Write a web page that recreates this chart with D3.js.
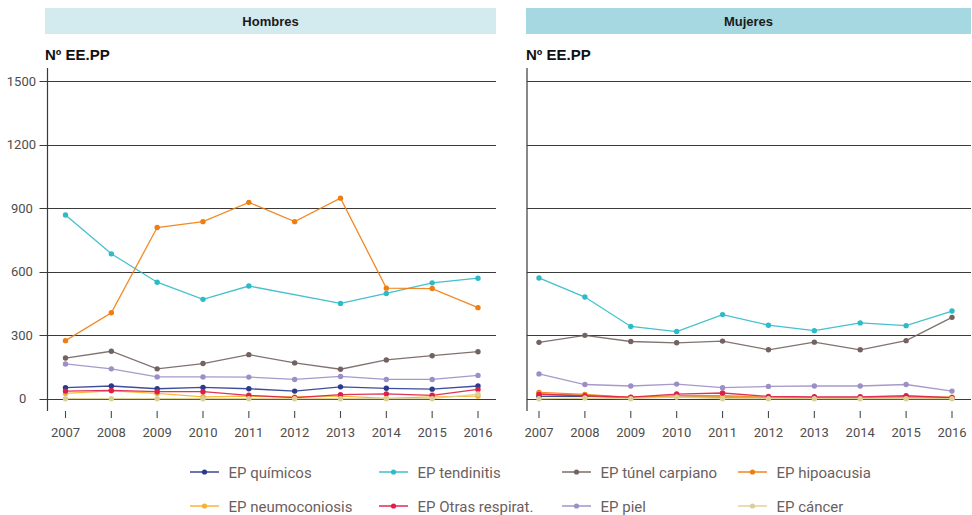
<!DOCTYPE html>
<html>
<head>
<meta charset="utf-8">
<script src="https://cdn.jsdelivr.net/npm/d3@7/dist/d3.min.js"></script>
<style>
  html, body { margin: 0; padding: 0; background: #fff; }
  svg { display: block; }
  .tick-lbl { font-family: Roboto, "Liberation Sans", sans-serif; font-size: 13px; fill: #4d4d4d; }
  .legend-lbl { font-family: Roboto, "Liberation Sans", sans-serif; font-size: 15px; fill: #6b6060; }
  .strip-lbl { font-family: "Liberation Sans", Arial, sans-serif; font-size: 13px; font-weight: bold; fill: #1a1a1a; }
  .unit-lbl { font-family: "Liberation Sans", Arial, sans-serif; font-size: 15px; font-weight: bold; fill: #111; }
</style>
</head>
<body>
<svg id="chart" width="972" height="515"></svg>
<script>
// Years on the x axis
const years = [2007, 2008, 2009, 2010, 2011, 2012, 2013, 2014, 2015, 2016];

// Y axis ticks
const yTicks = [0, 300, 600, 900, 1200, 1500];
const yTickLabels = ["0", "300", "600", "900", "1200", "1500"];

// Series names (legend order)
const seriesNames = ["EP químicos", "EP tendinitis", "EP túnel carpiano", "EP hipoacusia",
                     "EP neumoconiosis", "EP Otras respirat.", "EP piel", "EP cáncer"];
const seriesColors = ["#2a3b8f", "#2fbac8", "#73625f", "#f07d10",
                      "#f8b12c", "#dc1e48", "#9b8fc6", "#dad097"];

// Panels
const panelNames = ["Hombres", "Mujeres"];
const stripColors = ["#d3eaee", "#a5d8e0"];

// Hombres (null = no data that year)
const hQuimicos      = [52, 60, 47, 53, 47, 36, 56, 49, 45, 60];
const hTendinitis    = [867, 684, 550, 469, 532, null, 450, 497, 547, 569];
const hTunel         = [192, 224, 141, 166, 208, 169, 139, 183, 203, 222];
const hHipoacusia    = [274, 406, 808, 836, 927, 836, 947, 522, 520, 430];
const hNeumoconiosis = [25, 37, 25, 9, 12, 8, 12, 2, 9, 12];
const hOtras         = [36, 39, 33, 33, 16, 5, 19, 23, 16, 44];
const hPiel          = [164, 141, 103, 103, 102, 91, 105, 91, 91, 110];
const hCancer        = [0, 0, 0, 0, 0, 0, 0, 0, 0, 22];

// Mujeres
const mQuimicos      = [11, 12, 5, 10, 8, 3, 3, 3, 5, 3];
const mTendinitis    = [570, 480, 341, 317, 397, 347, 321, 358, 345, 414];
const mTunel         = [266, 299, 270, 264, 272, 231, 267, 231, 274, 384];
const mHipoacusia    = [30, 20, 6, 14, 14, 6, 6, 6, 8, 7];
const mNeumoconiosis = [25, 15, 5, 8, 8, 3, 3, 3, 5, 3];
const mOtras         = [21, 14, 7, 22, 27, 11, 9, 9, 14, 5];
const mPiel          = [117, 67, 60, 69, 52, 58, 60, 60, 67, 36];
const mCancer        = [0, 3, 0, 8, 0, 0, 0, 0, 0, 0];

const panelSeries = [
  [hQuimicos, hTendinitis, hTunel, hHipoacusia, hNeumoconiosis, hOtras, hPiel, hCancer],
  [mQuimicos, mTendinitis, mTunel, mHipoacusia, mNeumoconiosis, mOtras, mPiel, mCancer]
];

const svg = d3.select("#chart");

const panelLayout = [
  { axisX: 47.5, right: 496, stripX: 45, xFirst: 65.5, xLast: 478, showLabels: true },
  { axisX: 527, right: 971, stripX: 526, xFirst: 539, xLast: 952, showLabels: false }
];

const y = d3.scaleLinear().domain([0, 1500]).range([398.7, 81]);
const axisTop = 68, axisBottom = 411;

panelLayout.forEach((p, pi) => {
  const g = svg.append("g");
  const x = d3.scalePoint().domain(years).range([p.xFirst, p.xLast]);

  // strip
  g.append("rect")
    .attr("x", p.stripX).attr("y", 8)
    .attr("width", p.right - p.stripX).attr("height", 26)
    .attr("fill", stripColors[pi]);
  g.append("text").attr("class", "strip-lbl")
    .attr("x", (p.stripX + p.right) / 2).attr("y", 25.5)
    .attr("text-anchor", "middle").text(panelNames[pi]);

  // unit title
  g.append("text").attr("class", "unit-lbl")
    .attr("x", p.stripX).attr("y", 59.5).text("Nº EE.PP");

  // horizontal grid lines
  g.selectAll(".grid").data(yTicks).join("line")
    .attr("x1", p.showLabels ? p.axisX - 8 : p.axisX).attr("x2", p.right)
    .attr("y1", d => Math.round(y(d)) + 0.5).attr("y2", d => Math.round(y(d)) + 0.5)
    .attr("stroke", "#3a3a3a").attr("stroke-width", 1.2);

  // y axis line
  g.append("line")
    .attr("x1", p.axisX).attr("x2", p.axisX)
    .attr("y1", axisTop).attr("y2", axisBottom)
    .attr("stroke", "#3a3a3a").attr("stroke-width", 1.2);

  // y tick labels (first panel only)
  if (p.showLabels) {
    g.selectAll(".ylbl").data(yTicks).join("text").attr("class", "tick-lbl")
      .attr("x", (d, i) => 36 - (4 - yTickLabels[i].length) * 3.2)
      .attr("y", d => y(d) + 4.5)
      .attr("text-anchor", "end")
      .text((d, i) => yTickLabels[i]);
  }

  // x axis ticks and labels
  const xa = g.append("g");
  xa.selectAll("line").data(years).join("line")
    .attr("x1", d => x(d)).attr("x2", d => x(d))
    .attr("y1", axisBottom).attr("y2", axisBottom + 7)
    .attr("stroke", "#4a4a4a").attr("stroke-width", 1.1);
  xa.selectAll("text").data(years).join("text").attr("class", "tick-lbl")
    .attr("x", d => x(d)).attr("y", 437)
    .attr("text-anchor", "middle").text(d => d);

  // series
  const line = d3.line().x(d => x(d.year)).y(d => y(d.value));
  panelSeries[pi].forEach((vals, si) => {
    const pts = years.map((yr, k) => ({ year: yr, value: vals[k] })).filter(d => d.value !== null);
    const sg = g.append("g");
    sg.append("path").datum(pts)
      .attr("d", line).attr("fill", "none")
      .attr("stroke", seriesColors[si]).attr("stroke-width", 1.3)
      .attr("stroke-opacity", 0.9);
    sg.selectAll("circle").data(pts).join("circle")
      .attr("cx", d => x(d.year)).attr("cy", d => y(d.value))
      .attr("r", 2.7).attr("fill", seriesColors[si]);
  });
});

// legend
const legCols = [190, 379, 562, 738];
const legRows = [472, 506];
const leg = svg.append("g");
seriesNames.forEach((name, i) => {
  const lx = legCols[i % 4], ly = legRows[Math.floor(i / 4)];
  leg.append("line").attr("x1", lx).attr("x2", lx + 29)
    .attr("y1", ly).attr("y2", ly)
    .attr("stroke", seriesColors[i]).attr("stroke-width", 1.4);
  leg.append("circle").attr("cx", lx + 14.5).attr("cy", ly).attr("r", 2.6)
    .attr("fill", seriesColors[i]);
  leg.append("text").attr("class", "legend-lbl")
    .attr("x", lx + 38.5).attr("y", ly + 5.5).text(name);
});
</script>
</body>
</html>
